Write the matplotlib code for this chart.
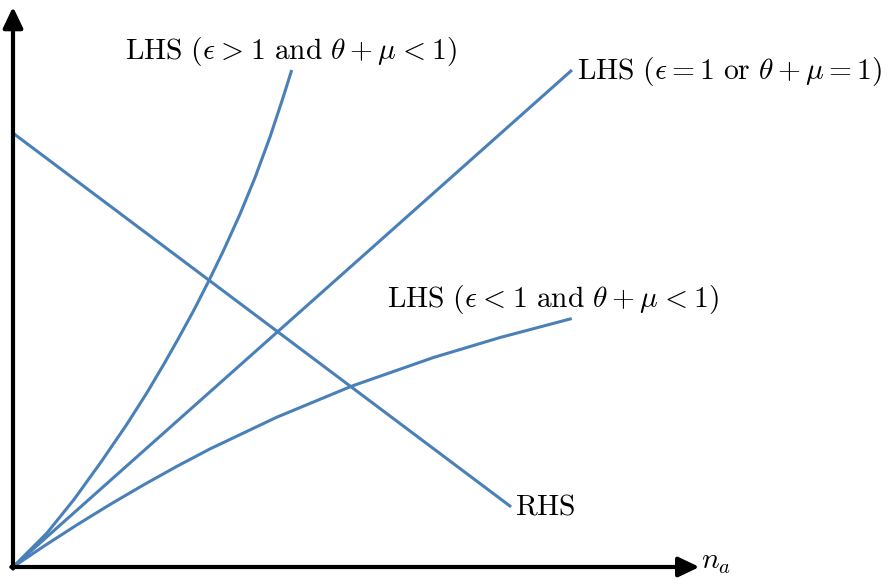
import numpy as np
import matplotlib
matplotlib.use("Agg")
import matplotlib.pyplot as plt

plt.rcParams['mathtext.fontset'] = 'cm'
plt.rcParams['font.family'] = ['DejaVu Serif']

# ---- data (arbitrary units) ----
rhs_x = [0.0, 8.91]
rhs_y = [8.73, 1.21]

lhs_eq_x = [0.0, 10.0]
lhs_eq_y = [0.0, 10.0]

lhs_gt_x = [0.0, 0.608, 1.091, 1.574, 2.034, 2.392, 2.689, 2.957, 3.225, 3.494,
            3.762, 4.061, 4.329, 4.597, 4.835, 4.986]
lhs_gt_y = [0.0, 0.684, 1.358, 2.111, 2.867, 3.499, 4.062, 4.594, 5.145, 5.737,
            6.358, 7.100, 7.833, 8.650, 9.459, 10.0]

lhs_lt_x = [0.0, 0.542, 1.140, 1.735, 2.331, 2.928, 3.524, 4.717, 6.059, 7.519, 8.712, 9.995]
lhs_lt_y = [0.0, 0.411, 0.845, 1.257, 1.649, 2.023, 2.376, 3.013, 3.639, 4.214, 4.617, 4.999]

sp = r'\hspace{0.06}'
label_gt = r'$\mathrm{LHS}\ (\epsilon ' + sp + r'>' + sp + r' 1\ \mathrm{and}\ \theta + \mu ' + sp + r'<' + sp + r' 1)$'
label_eq = r'$\mathrm{LHS}\ (\epsilon = 1\ \mathrm{or}\ \theta + \mu = 1)$'
label_lt = r'$\mathrm{LHS}\ (\epsilon ' + sp + r'<' + sp + r' 1\ \mathrm{and}\ \theta + \mu ' + sp + r'<' + sp + r' 1)$'
label_rhs = r'$\mathrm{RHS}$'
label_x = r'$n_a$'

# ---- figure ----
fig = plt.figure(figsize=(8.88, 5.83), dpi=100)
ax = fig.add_axes([0, 0, 1, 1])
ax.set_xlim(-13 / 55.9, 875 / 55.9)
ax.set_ylim(-16 / 49.7, 567 / 49.7)
ax.axis('off')

blue = '#4a80b8'
lw = 2.2
for xs, ys in [(rhs_x, rhs_y), (lhs_eq_x, lhs_eq_y), (lhs_gt_x, lhs_gt_y), (lhs_lt_x, lhs_lt_y)]:
    ax.plot(xs, ys, color=blue, lw=lw, solid_capstyle='butt', solid_joinstyle='round')

# axes arrows
arrow = dict(arrowstyle='-|>,head_length=0.63,head_width=0.3', lw=3.0, color='black',
             shrinkA=0, shrinkB=0, mutation_scale=20)
ax.annotate('', xy=(12.28, 0), xytext=(-0.03, 0), arrowprops=arrow)
ax.annotate('', xy=(0, 11.27), xytext=(0, -0.03), arrowprops=arrow)

fs = 21.3
ax.text(4.97, 10.22, label_gt, fontsize=fs, ha='center', va='baseline')
ax.text(10.09, 9.82, label_eq, fontsize=fs, ha='left', va='baseline')
ax.text(9.66, 5.23, label_lt, fontsize=fs, ha='center', va='baseline')
ax.text(8.98, 1.05, label_rhs, fontsize=fs, ha='left', va='baseline')
ax.text(12.31, -0.03, label_x, fontsize=fs, ha='left', va='baseline')

fig.savefig('out.png', dpi=100)
